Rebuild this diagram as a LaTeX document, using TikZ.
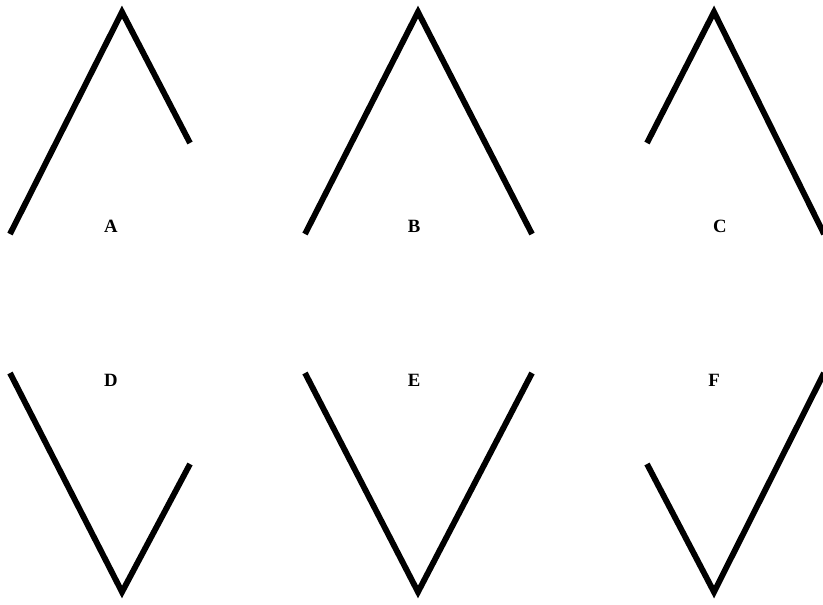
\documentclass[tikz,border=0pt]{standalone}
\usepackage{fontspec}
\setmainfont{Liberation Serif}
\usepackage{tikz}
\usetikzlibrary{positioning}

\tikzset{
  vline/.style={line width=5pt, black},
  tag/.style={font=\fontsize{16}{18}\selectfont\bfseries, inner sep=0pt}
}

\begin{document}
\begin{tikzpicture}[x=0.03cm, y=-0.03cm]
    \useasboundingbox (0,0) rectangle (823,604);
    % top row
    \coordinate (aL) at (10,234); \coordinate (aT) at (122,12); \coordinate (aR) at (190,143);
    \coordinate (bL) at (305,234); \coordinate (bT) at (418,12); \coordinate (bR) at (532,234);
    \coordinate (cL) at (647,143); \coordinate (cT) at (714,12); \coordinate (cR) at (824,234);
    \draw[vline] (aL)--(aT)--(aR);
    \draw[vline] (bL)--(bT)--(bR);
    \draw[vline] (cL)--(cT)--(cR);
    \node[tag] (labA) at (111,226){A};
    \node[tag] (labB) at (414,226){B};
    \node[tag] (labC) at (720,226){C};
    % bottom row
    \coordinate (dL) at (10,373); \coordinate (dB) at (122,592); \coordinate (dR) at (190,464);
    \coordinate (eL) at (305,373); \coordinate (eB) at (418,592); \coordinate (eR) at (532,373);
    \coordinate (fL) at (647,464); \coordinate (fB) at (714,592); \coordinate (fR) at (824,373);
    \draw[vline] (dL)--(dB)--(dR);
    \draw[vline] (eL)--(eB)--(eR);
    \draw[vline] (fL)--(fB)--(fR);
    \node[tag] (labD) at (111,380){D};
    \node[tag] (labE) at (414,380){E};
    \node[tag] (labF) at (714,380){F};
\end{tikzpicture}
\end{document}
